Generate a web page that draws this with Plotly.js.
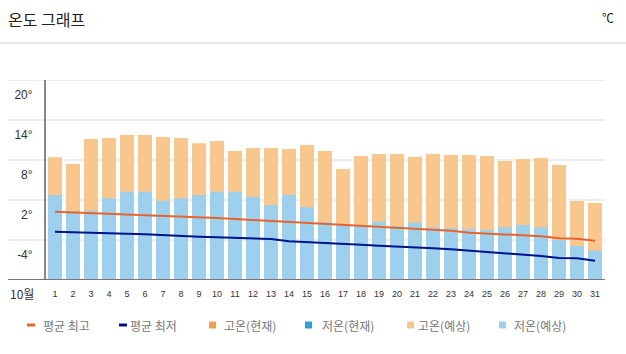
<!DOCTYPE html>
<html>
<head>
<meta charset="utf-8">
<script src="https://cdn.plot.ly/plotly-3.0.1.min.js"></script>
<style>
  html, body { margin: 0; padding: 0; background: #fff; }
  #chart { width: 626px; height: 354px; }
</style>
</head>
<body>
<div id="chart"></div>
<script>
// ---- data ----
const days = [1,2,3,4,5,6,7,8,9,10,11,12,13,14,15,16,17,18,19,20,21,22,23,24,25,26,27,28,29,30,31];
const dayLabels = days.map(String);
// forecast high / low (°C)
const highForecast = [8.4,7.4,11.15,11.3,11.75,11.75,11.45,11.3,10.5,10.85,9.35,9.8,9.8,9.65,10.25,9.35,6.65,8.6,8.9,8.9,8.5,8.9,8.75,8.75,8.6,7.85,8.15,8.3,7.25,1.85,1.55];
const lowForecast  = [2.75,0.3,0.4,2.25,3.25,3.25,1.9,2.25,2.75,3.25,3.25,2.5,1.25,2.75,0.9,-1.3,-1.7,-1.75,-1.25,-1.9,-1.4,-2.1,-2.25,-2.4,-2.5,-2.1,-1.75,-2.1,-4.0,-4.9,-5.6];
// current high / low (no observations shown in the reference)
const highNow = [];
const lowNow = [];
// climatological averages
const avgHigh = [0.25,0.15,0.05,0.0,-0.1,-0.25,-0.4,-0.5,-0.6,-0.7,-0.85,-1.0,-1.1,-1.25,-1.4,-1.6,-1.75,-1.9,-2.0,-2.15,-2.3,-2.45,-2.6,-2.9,-3.0,-3.15,-3.3,-3.45,-3.75,-3.8,-4.1];
const avgLow  = [-2.75,-2.8,-2.9,-2.95,-3.05,-3.15,-3.3,-3.4,-3.5,-3.6,-3.7,-3.8,-3.85,-4.2,-4.3,-4.4,-4.6,-4.7,-4.85,-4.95,-5.1,-5.25,-5.4,-5.6,-5.75,-5.95,-6.1,-6.4,-6.7,-6.75,-7.1];
const yTickVals = [-10,-4,2,8,14,20];
const yTickText = ['','-4°','2°','8°','14°','20°'];
const Y_MIN = -10, Y_MAX = 20;

const FONT = '"Liberation Sans Narrow", "Liberation Sans", "Noto Sans CJK KR", sans-serif';
const KFONT = '"Noto Sans CJK KR", "Noto Sans", sans-serif';

const heights = arr => arr.map(v => v - Y_MIN);

const traces = [
  { type:'bar', name:'고온(예상)', x: days, y: heights(highForecast), base: Y_MIN,
    marker:{color:'#f7c78e'}, hoverinfo:'skip' },
  { type:'bar', name:'저온(예상)', x: days, y: heights(lowForecast), base: Y_MIN,
    marker:{color:'#9dd0ec'}, hoverinfo:'skip' },
  { type:'bar', name:'고온(현재)', x: highNow.map((_, i) => days[i]), y: heights(highNow), base: Y_MIN,
    marker:{color:'#f29c4c'} },
  { type:'bar', name:'저온(현재)', x: lowNow.map((_, i) => days[i]), y: heights(lowNow), base: Y_MIN,
    marker:{color:'#2d9fd6'} },
  { type:'scatter', mode:'lines', name:'평균 최고', x: days, y: avgHigh,
    line:{color:'#e8642c', width:2} },
  { type:'scatter', mode:'lines', name:'평균 최저', x: days, y: avgLow,
    line:{color:'#00108c', width:2} }
];

// ---- layout helpers (pixel -> paper) ----
const PL = 46, PW = 558, PB = 280, PH = 200;
const px = v => (v - PL) / PW;
const py = v => (PB - v) / PH;

const gridShapes = yTickVals.map(v => ({
  type:'line', xref:'paper', yref:'y', x0:px(8), x1:px(605), y0:v, y1:v,
  line:{color: v === Y_MIN ? '#777' : '#eeeeee', width: 2}, layer: v === Y_MIN ? 'above' : 'below'
}));

// custom legend (order as in the reference), symbols + real text
const legendOrder = [4, 5, 2, 3, 0, 1];
const legendSymX = [27, 119, 209, 305, 407, 499];
const legendTextX = [41, 128, 222, 320, 416, 512];
const LEG_Y = 325;
const legendShapes = [], legendAnn = [];
legendOrder.forEach((ti, k) => {
  const tr = traces[ti];
  if (tr.type === 'scatter') {
    legendShapes.push({type:'line', xref:'paper', yref:'paper',
      x0:px(legendSymX[k]), x1:px(legendSymX[k] + 8), y0:py(LEG_Y), y1:py(LEG_Y),
      line:{color: tr.line.color, width:3}});
  } else {
    legendShapes.push({type:'rect', xref:'paper', yref:'paper',
      x0:px(legendSymX[k]), x1:px(legendSymX[k] + 7), y0:py(LEG_Y - 3.5), y1:py(LEG_Y + 3.5),
      fillcolor: tr.marker.color, line:{width:0}});
  }
  legendAnn.push({text: tr.name, xref:'paper', yref:'paper', x:px(legendTextX[k]), y:py(LEG_Y),
    xanchor:'left', yanchor:'middle', showarrow:false,
    font:{family:KFONT, size:12, color:'#777'}});
});

const layout = {
  width: 626, height: 354,
  margin: {l:PL, r:626 - PL - PW, t:PB - PH, b:354 - PB},
  paper_bgcolor:'#fff', plot_bgcolor:'#fff',
  barmode:'overlay', bargap: 0.22,
  showlegend: false,
  title: {text:'온도 그래프', font:{family:KFONT, size:16, color:'#222'},
          xref:'container', yref:'container', x: 8/626, xanchor:'left', y: 1 - 20/354, yanchor:'middle'},
  xaxis: {
    range:[0.5, 31.5], tickvals: days, ticktext: dayLabels,
    showgrid:false, zeroline:false, showline:false, ticks:'',
    tickfont:{family:FONT, size:9, color:'#333'}, ticklabelstandoff: 7, fixedrange:true
  },
  yaxis: {
    range:[Y_MIN, Y_MAX], tickvals: yTickVals, ticktext: yTickText,
    showgrid:false, zeroline:false, showline:true, linecolor:'#888', linewidth:2,
    ticks:'', ticklabelshift:15, ticklabelstandoff: 9,
    tickfont:{family:FONT, size:12, color:'#333'}, fixedrange:true
  },
  shapes: gridShapes.concat(legendShapes, [
    {type:'line', xref:'paper', yref:'paper', x0:px(0), x1:px(626), y0:py(43), y1:py(43),
     line:{color:'#dddddd', width:1.5}}
  ]),
  annotations: legendAnn.concat([
    {text:'℃', xref:'paper', yref:'paper', x:px(608), y:py(18), xanchor:'center', yanchor:'middle',
     showarrow:false, font:{family:KFONT, size:12, color:'#222'}},
    {text:'10월', xref:'paper', yref:'paper', x:px(8), y:py(293), xanchor:'left', yanchor:'middle',
     showarrow:false, font:{family:KFONT, size:12, color:'#333'}}
  ])
};

Plotly.newPlot('chart', traces, layout, {displayModeBar:false, staticPlot:true});
</script>
</body>
</html>
